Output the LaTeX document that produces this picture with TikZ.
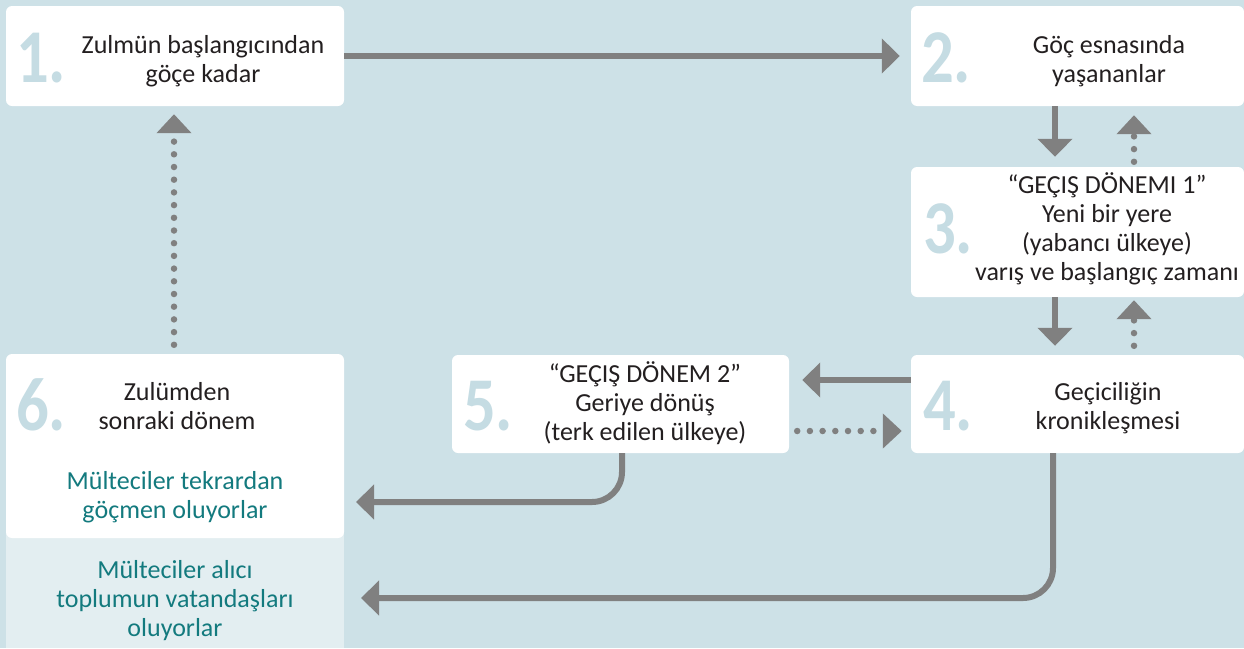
\documentclass[tikz,border=0pt]{standalone}
\usepackage{fontspec}
\setmainfont{Carlito}
\newfontfamily\numfont[FakeStretch=0.85]{Carlito}
\usetikzlibrary{arrows.meta}

\definecolor{bgblue}{HTML}{CDE1E7}
\definecolor{paleblue}{HTML}{E3EEF1}
\definecolor{numblue}{HTML}{C5DCE3}
\definecolor{arrowgray}{HTML}{808080}
\definecolor{textdark}{HTML}{231F20}
\definecolor{teal}{HTML}{137A7E}

\begin{document}
\begin{tikzpicture}[x=1pt, y=-1pt,
    box/.style={fill=white, rounded corners=6pt, inner sep=0pt},
    num/.style={anchor=base west, inner sep=0pt, text=numblue, font=\numfont\fontsize{76}{76}\selectfont\bfseries},
    txt/.style={anchor=base, inner sep=0pt, align=center, text=textdark, font=\fontsize{26}{29}\selectfont},
    flow/.style={draw=arrowgray, line width=6pt, -{Triangle[length=18pt, width=34pt]}},
    back/.style={draw=arrowgray, line width=6.5pt, line cap=round, dash pattern=on 0pt off 12.7pt, -{Triangle[length=19pt, width=34pt]}}]
      \useasboundingbox[fill=bgblue] (0,0) rectangle (1244,648);

      % boxes
      \node[fill=paleblue, inner sep=0pt, minimum width=338pt, minimum height=118pt] (b6low) at (175,589) {};
      \node[box, minimum width=338pt, minimum height=100pt] (b1) at (175,56) {};
      \node[box, minimum width=333pt, minimum height=100pt] (b2) at (1077.5,56) {};
      \node[box, minimum width=333pt, minimum height=130pt] (b3) at (1077.5,232) {};
      \node[box, minimum width=333pt, minimum height=98pt] (b4) at (1077.5,404) {};
      \node[box, minimum width=337pt, minimum height=98pt] (b5) at (620.5,404) {};
      \node[box, minimum width=338pt, minimum height=184pt] (b6) at (175,446) {};

      % numbers
      \node[num] (n1) at (16,82) {1.};
      \node[num] (n2) at (921,82) {2.};
      \node[num] (n3) at (923,253) {3.};
      \node[num] (n4) at (923,430) {4.};
      \node[num] (n5) at (463,430) {5.};
      \node[num] (n6) at (16,430) {6.};

      % texts (anchored on the last line)
      \node[txt] (t1) at (203,82) {Zulmün başlangıcından\\göçe kadar};
      \node[txt] (t2) at (1109,82) {Göç esnasında\\yaşananlar};
      \node[txt] (t3) at (1107,280) {“GEÇIŞ DÖNEMI 1”\\Yeni bir yere\\(yabancı ülkeye)\\varış ve başlangıç zamanı};
      \node[txt] (t4) at (1108,429) {Geçiciliğin\\kronikleşmesi};
      \node[txt] (t5) at (645,440) {“GEÇIŞ DÖNEM 2”\\Geriye dönüş\\(terk edilen ülkeye)};
      \node[txt] (t6) at (177,429) {Zulümden\\sonraki dönem};
      \node[txt, text=teal] (t6a) at (175,518) {Mülteciler tekrardan\\göçmen oluyorlar};
      \node[txt, text=teal] (t6b) at (175,636) {Mülteciler alıcı\\toplumun vatandaşları\\oluyorlar};

      \coordinate (e56) at (356,502);
      \coordinate (e46) at (361,598);

      % connectors
      \draw[flow, shorten >=11pt] (b1.east) -- (b2.west);
      \draw[flow, shorten >=10pt] ([xshift=-22.5pt]b2.south) -- ([xshift=-22.5pt]b3.north);
      \draw[back, shorten <=5pt, shorten >=9pt] ([xshift=56.5pt]b3.north) -- ([xshift=56.5pt]b2.south);
      \draw[flow, shorten >=9pt] ([xshift=-22.5pt]b3.south) -- ([xshift=-22.5pt]b4.north);
      \draw[back, shorten <=9pt, shorten >=3pt] ([xshift=56.5pt]b4.north) -- ([xshift=56.5pt]b3.south);
      \draw[flow, shorten >=13pt] ([yshift=24pt]b4.west) -- ([yshift=24pt]b5.east);
      \draw[back, shorten <=8pt, shorten >=9pt] ([yshift=-27pt]b5.east) -- ([yshift=-27pt]b4.west);
      \draw[flow, rounded corners=30pt] ([xshift=1.5pt]b5.south) |- (e56);
      \draw[flow, rounded corners=30pt] ([xshift=-24.5pt]b4.south) |- (e46);
      \draw[back, shorten <=9pt, shorten >=8pt] ([xshift=-1pt]b6.north) -- ([xshift=-1pt]b1.south);
    \end{tikzpicture}
\end{document}
